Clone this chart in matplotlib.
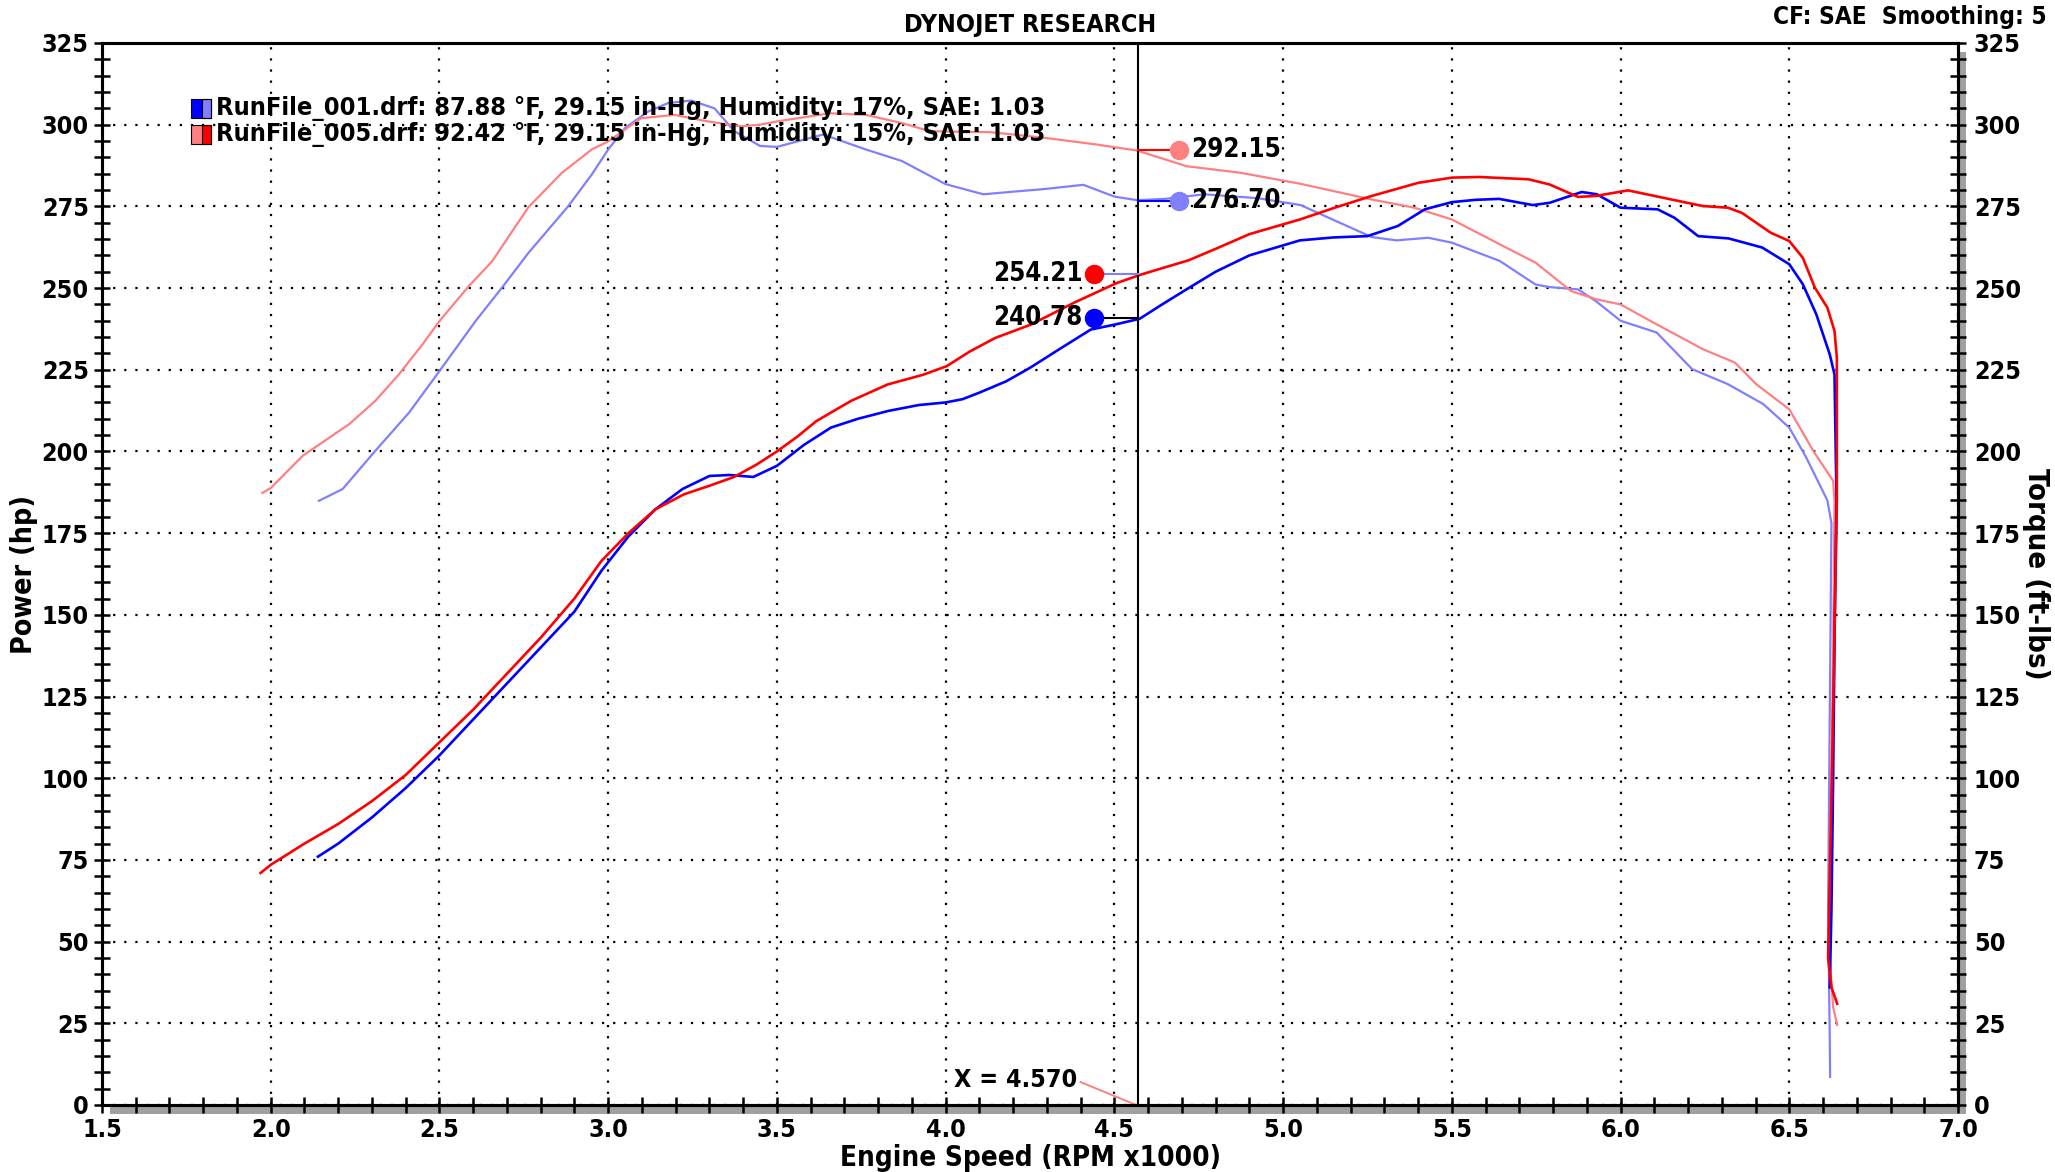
import matplotlib
matplotlib.use("Agg")
from matplotlib import pyplot as plt
from matplotlib.ticker import MultipleLocator, FormatStrFormatter
from matplotlib.patches import Rectangle

# Colors
BLUE = "#0000FF"
RED = "#FF0000"
LBLUE = "#8080FF"
LRED = "#FF8080"
SHADOW = "#A0A0A0"

# RunFile_001 power (hp)
rpm_p1 = [2.14, 2.2, 2.3, 2.4, 2.5, 2.6, 2.7, 2.8, 2.9, 2.98, 3.06, 3.14, 3.22, 3.30, 3.36,
          3.43, 3.5, 3.58, 3.66, 3.74, 3.83, 3.92, 4.0, 4.05, 4.1, 4.18, 4.25, 4.34, 4.43,
          4.5, 4.575, 4.64, 4.72, 4.8, 4.9, 5.05, 5.15, 5.25, 5.34, 5.42, 5.5, 5.57, 5.64,
          5.74, 5.79, 5.885, 5.93, 6.0, 6.11, 6.16, 6.23, 6.32, 6.42, 6.5, 6.54, 6.58, 6.62,
          6.634, 6.64, 6.635, 6.63, 6.625, 6.62]
pow_1 = [76, 80, 88, 97, 107, 118, 129, 140, 151, 163.5, 174, 182.3, 188.5, 192.5, 192.8,
         192.2, 195.6, 202, 207.3, 210, 212.4, 214.2, 215, 216, 218, 221.5, 225.6, 231.5, 237.3,
         238.8, 240.6, 244.9, 250, 255, 260, 264.6, 265.5, 265.9, 269, 274.1, 276.3, 277, 277.3,
         275.4, 276.1, 279.4, 278.7, 274.6, 274.1, 271.5, 265.9, 265.2, 262.4, 257.3, 251.2, 242, 229.7,
         223.6, 185, 150, 100, 60, 36]

# RunFile_005 power (hp)
rpm_p5 = [1.97, 2.0, 2.1, 2.2, 2.3, 2.4, 2.5, 2.6, 2.7, 2.8, 2.9, 2.98, 3.06, 3.14, 3.225,
          3.3, 3.373, 3.44, 3.5, 3.56, 3.617, 3.72, 3.828, 3.934, 4.003, 4.07, 4.146, 4.252,
          4.38, 4.506, 4.575, 4.642, 4.72, 4.8, 4.9, 5.05, 5.15, 5.263, 5.4, 5.5, 5.58, 5.727,
          5.79, 5.874, 5.927, 6.022, 6.128, 6.244, 6.318, 6.36, 6.444, 6.5, 6.54, 6.576, 6.613,
          6.634, 6.641, 6.641, 6.635, 6.628, 6.62, 6.615, 6.625, 6.642]
pow_5 = [71, 73.5, 80, 86, 93, 101, 111, 121, 132, 143, 155, 166.5, 175, 182.3, 186.9,
         189.5, 192.2, 196, 200, 204.5, 209.3, 215.5, 220.5, 223.5, 226.1, 230.5, 234.7, 238.8,
         245.5, 251.5, 254, 256.1, 258.5, 262, 266.5, 271, 274.5, 278.2, 282.2, 283.8, 284, 283.3,
         281.7, 277.9, 278.2, 279.9, 277.6, 275.1, 274.6, 273, 267, 264.4, 259.3, 250.1, 244,
         236.9, 228.7, 185, 150, 110, 70, 45, 36, 31]

# RunFile_001 torque (ft-lbs)
rpm_t1 = [2.143, 2.213, 2.31, 2.41, 2.5, 2.607, 2.685, 2.764, 2.882, 2.951, 3.0, 3.05, 3.118,
          3.177, 3.246, 3.315, 3.374, 3.45, 3.5, 3.637, 3.764, 3.87, 4.0, 4.112, 4.2, 4.292,
          4.408, 4.5, 4.567, 4.65, 4.767, 4.926, 5.052, 5.157, 5.263, 5.336, 5.43, 5.5, 5.642,
          5.748, 5.79, 5.874, 5.927, 6.0, 6.107, 6.212, 6.318, 6.423, 6.5, 6.55, 6.613, 6.625,
          6.62, 6.615, 6.62, 6.621]
trq_1 = [184.9, 188.5, 200.2, 211.9, 224.6, 239.9, 250.1, 260.8, 275.1, 284.7, 292.4, 299, 304,
         306.6, 307.4, 305, 298, 293.5, 293.2, 297, 292.4, 288.9, 281.8, 278.7, 279.5, 280.3,
         281.6, 278, 276.9, 277.3, 278.7, 277.5, 275.4, 270.5, 265.6, 264.6, 265.4, 263.9, 258.3,
         251.1, 250.3, 249.6, 246, 240, 236.4, 225.2, 220.6, 214.5, 207.3, 198.2, 185, 178,
         120, 60, 20, 8.6]

# RunFile_005 torque (ft-lbs)
rpm_t5 = [1.975, 2.0, 2.095, 2.145, 2.233, 2.31, 2.38, 2.45, 2.5, 2.587, 2.656, 2.764, 2.862,
          2.951, 3.0, 3.098, 3.197, 3.295, 3.393, 3.45, 3.5, 3.658, 3.764, 3.87, 3.954, 4.134,
          4.292, 4.45, 4.567, 4.714, 4.873, 5.052, 5.263, 5.389, 5.5, 5.642, 5.748, 5.853, 5.927,
          6.0, 6.107, 6.244, 6.339, 6.402, 6.5, 6.571, 6.63, 6.634, 6.63, 6.622, 6.62, 6.63, 6.642]
trq_5 = [187.3, 188.8, 198.7, 202.2, 208.4, 215.5, 223.6, 232.8, 239.9, 250.6, 258.2, 274.8, 285.2,
         292.4, 294.9, 302, 303, 301, 299.5, 300, 301, 303.5, 303, 300.5, 298, 297.7,
         296, 293.9, 292.1, 287.3, 285.3, 281.9, 277.1, 274.6, 271, 263.4, 257.8, 249.1, 246.6,
         245, 238.9, 231.3, 227.2, 220.6, 212.9, 200.2, 191, 184.9, 140, 80, 45, 30, 24.5]

legend_labels = ["RunFile_001.drf: 87.88 °F, 29.15 in-Hg, Humidity: 17%, SAE: 1.03",
                 "RunFile_005.drf: 92.42 °F, 29.15 in-Hg, Humidity: 15%, SAE: 1.03"]

cursor_x = 4.570
trq_marks = [292.15, 276.70]
pow_marks = [254.21, 240.78]

FONT = dict(family="DejaVu Sans", fontweight="bold", fontstretch="condensed")

fig = plt.figure(figsize=(20.55, 11.72), dpi=100)
L, B, W, H = 102 / 2055, 1 - 1105 / 1172, (1958 - 102) / 2055, (1105 - 43) / 1172
# grey drop shadow behind the frame
fig.add_artist(Rectangle((L + 8 / 2055, B - 9 / 1172), W, H, transform=fig.transFigure,
                         facecolor=SHADOW, edgecolor="none", zorder=-5))
ax = fig.add_axes([L, B, W, H])
ax.set_xlim(1.5, 7.0)
ax.set_ylim(0, 325)

ax.xaxis.set_major_locator(MultipleLocator(0.5))
ax.xaxis.set_minor_locator(MultipleLocator(0.1))
ax.xaxis.set_major_formatter(FormatStrFormatter("%.1f"))
ax.yaxis.set_major_locator(MultipleLocator(25))
ax.yaxis.set_minor_locator(MultipleLocator(5))
ax.grid(True, which="major", color="black", linestyle=(0, (1, 4)), linewidth=1.6)
ax.tick_params(which="both", direction="inout", length=11, width=1.8, color="black")
ax.tick_params(axis="x", pad=4)
ax.tick_params(axis="y", pad=4)
for lab in ax.get_xticklabels() + ax.get_yticklabels():
    lab.set(fontsize=18, **FONT)
for s in ax.spines.values():
    s.set_linewidth(2.2)

ax2 = ax.twinx()
ax2.set_ylim(0, 325)
ax2.yaxis.set_major_locator(MultipleLocator(25))
ax2.yaxis.set_minor_locator(MultipleLocator(5))
ax2.tick_params(which="both", direction="inout", length=11, width=1.8, pad=6)
for lab in ax2.get_yticklabels():
    lab.set(fontsize=18, **FONT)
for s in ax2.spines.values():
    s.set_linewidth(2.2)

# curves
ax.plot(rpm_t1, trq_1, color=LBLUE, linewidth=1.6)
ax.plot(rpm_t5, trq_5, color=LRED, linewidth=1.6)
ax.plot(rpm_p1, pow_1, color=BLUE, linewidth=1.9)
ax.plot(rpm_p5, pow_5, color=RED, linewidth=1.9)

# cursor
ax.axvline(cursor_x, color="black", linewidth=1.5)
ax.plot([4.40, cursor_x - 0.005], [7, 0], color=LRED, linewidth=1.4)
ax.text(4.39, 7.5, "X = %.3f" % cursor_x, ha="right", va="center", fontsize=18, **FONT)

tx = 4.693
px = 4.44
ax.plot([cursor_x, tx], [trq_marks[0]] * 2, color=RED, linewidth=1.5)
ax.plot([cursor_x, tx], [trq_marks[1]] * 2, color=BLUE, linewidth=1.5)
ax.plot([px, cursor_x], [pow_marks[0]] * 2, color=LBLUE, linewidth=1.5)
ax.plot([px, cursor_x], [pow_marks[1]] * 2, color="black", linewidth=1.5)
ax.plot([tx], [trq_marks[0]], "o", color=LRED, markersize=13)
ax.plot([tx], [trq_marks[1]], "o", color=LBLUE, markersize=13)
ax.plot([px], [pow_marks[0]], "o", color=RED, markersize=13)
ax.plot([px], [pow_marks[1]], "o", color=BLUE, markersize=13)
for v in trq_marks:
    ax.text(tx + 0.035, v, "%.2f" % v, ha="left", va="center", fontsize=18.5, **FONT)
for v in pow_marks:
    ax.text(px - 0.035, v, "%.2f" % v, ha="right", va="center", fontsize=18.5, **FONT)

# legend
for i, (lab, c1, c2) in enumerate(zip(legend_labels, [BLUE, LRED], [LBLUE, RED])):
    yc = 305 - 8 * i
    ax.add_patch(Rectangle((1.765, yc - 2.8), 0.03, 5.6, facecolor=c1, edgecolor="none", zorder=5))
    ax.add_patch(Rectangle((1.795, yc - 2.8), 0.028, 5.6, facecolor=c2, edgecolor="black",
                           linewidth=0.8, zorder=5))
    ax.add_patch(Rectangle((1.765, yc - 2.8), 0.058, 5.6, facecolor="none", edgecolor="black",
                           linewidth=0.8, zorder=6))
    ax.text(1.838, yc, lab, ha="left", va="center", fontsize=18.2, zorder=6, **FONT)

ax.set_xlabel("Engine Speed (RPM x1000)", fontsize=20, labelpad=1, **FONT)
ax.set_ylabel("Power (hp)", fontsize=20.5, labelpad=3, **FONT)
ax2.set_ylabel("Torque (ft-lbs)", fontsize=21, rotation=270, labelpad=21, **FONT)
fig.text(1030 / 2055, 1 - 25 / 1172, "DYNOJET RESEARCH", ha="center", va="center", fontsize=18, **FONT)
fig.text(2047 / 2055, 1 - 17 / 1172, "CF: SAE  Smoothing: 5", ha="right", va="center", fontsize=17.5, **FONT)

fig.savefig("out.png", dpi=100)
